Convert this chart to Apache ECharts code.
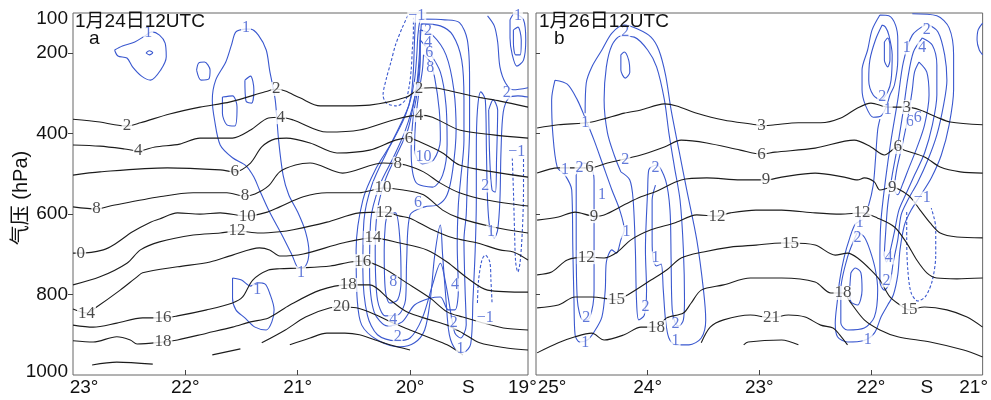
<!DOCTYPE html>
<html>
<head>
<meta charset="utf-8">
<title>剖面图</title>
<script src="https://cdn.jsdelivr.net/npm/echarts@6.0.0/dist/echarts.min.js"></script>
<style>
  html, body { margin: 0; padding: 0; background: #fff; }
  #chart { width: 991px; height: 400px; }
</style>
</head>
<body>
<div id="chart"></div>
<script>
// 刻度
const yLabels = [100, 200, 400, 600, 800, 1000];
const yTicks = [200, 400, 600, 800];
const aLatLabels = [23, 22, 21, 20, 19.48, 19];
const aLatTicks = [22, 21, 20];
const bLatLabels = [25, 24, 23, 22, 21.5, 21];
const bLatTicks = [24, 23, 22];
const aStation = 19.48;
const bStation = 21.5;

// ===== a: 1月24日 温度线 (黑) =====
const aT2 = [[23.00,364],[22.76,371],[22.63,378],[22.52,381],[22.40,373],[22.14,351],[21.87,334],[21.60,321],[21.29,296],[21.19,289],[21.11,294],[20.98,311],[20.80,331],[20.58,331],[20.36,329],[20.03,309],[19.92,289],[19.80,286],[19.64,294],[19.40,309],[19.20,319],[18.95,334]];
const aT4 = [[23.00,428],[22.76,431],[22.54,438],[22.42,443],[22.27,433],[22.05,426],[21.87,411],[21.58,411],[21.42,391],[21.26,361],[21.15,359],[21.04,366],[20.74,396],[20.45,391],[20.15,366],[19.92,354],[19.80,359],[19.56,391],[19.26,403],[18.95,411]];
const aT6 = [[23.00,503],[22.76,495],[22.16,485],[21.69,490],[21.56,495],[21.42,473],[21.32,433],[21.20,413],[21.10,411],[20.89,423],[20.65,448],[20.36,441],[20.13,416],[20.01,411],[19.91,421],[19.71,448],[19.56,478],[19.26,495],[18.95,508]];
const aT8 = [[23.00,582],[22.79,587],[22.67,580],[22.23,557],[21.93,547],[21.63,547],[21.47,555],[21.38,550],[21.26,530],[21.16,495],[21.02,478],[20.89,473],[20.60,498],[20.24,473],[20.11,475],[20.04,478],[19.88,495],[19.73,523],[19.56,547],[19.32,565],[18.95,580]];
const aT10 = [[23.00,697],[22.93,697],[22.73,689],[22.64,677],[22.47,644],[22.31,620],[22.23,612],[22.07,597],[21.87,600],[21.69,597],[21.45,605],[21.27,595],[21.16,582],[20.95,557],[20.74,547],[20.45,547],[20.33,540],[20.24,535],[20.06,540],[19.88,552],[19.71,590],[19.56,610],[19.26,632],[18.95,647]];
const aT12 = [[23.00,776],[22.76,756],[22.52,722],[22.40,689],[22.23,669],[21.93,652],[21.69,647],[21.54,642],[21.34,647],[21.16,644],[21.04,639],[20.74,620],[20.45,597],[20.23,595],[20.09,605],[20.00,610],[19.80,639],[19.62,659],[19.40,672],[19.20,689],[19.08,694],[18.95,714]];
const aT14 = [[23.00,836],[22.88,846],[22.79,831],[22.58,789],[22.43,756],[22.38,746],[22.07,731],[21.78,719],[21.58,702],[21.34,684],[21.25,689],[21.16,704],[20.95,699],[20.60,672],[20.33,659],[20.09,672],[19.85,689],[19.67,719],[19.49,759],[19.31,789],[18.95,794]];
const aT16 = [[23.00,876],[22.82,881],[22.61,871],[22.38,858],[22.20,858],[22.07,853],[21.81,838],[21.58,821],[21.49,806],[21.40,764],[21.26,739],[21.16,736],[20.98,734],[20.71,729],[20.53,719],[20.42,717],[20.24,734],[20.03,771],[19.82,809],[19.67,843],[19.53,856],[19.38,868],[19.17,883],[18.95,888]];
const aT18 = [[23.00,915],[22.82,918],[22.61,905],[22.49,913],[22.43,923],[22.20,918],[22.07,913],[21.81,896],[21.58,881],[21.42,868],[21.26,858],[21.07,826],[20.80,789],[20.55,776],[20.36,776],[20.18,813],[20.03,843],[19.82,863],[19.67,876],[19.53,896],[19.38,920],[19.14,933],[18.95,938]];
const aT20a = [[21.76,950],[21.51,935]];
const aT20b = [[21.32,920],[21.11,888],[20.93,856],[20.71,833],[20.61,831],[20.48,833],[20.30,851],[20.15,871],[20.00,888],[19.82,908],[19.67,925],[19.53,950]];
const aT22 = [[21.07,925],[20.89,908],[20.74,896],[20.58,896],[20.45,900],[20.31,913],[20.18,925],[20.00,938]];
const aT24 = [[22.83,975],[22.61,968],[22.29,973]];
const aTempLines = [aT2, aT4, aT6, aT8, aT10, aT12, aT14, aT16, aT18, aT20a, aT20b, aT22, aT24];
const aTempLabels = [
  [22.52,381,'2'],[21.19,289,'2'],[19.92,289,'2'],
  [22.42,443,'4'],[21.15,359,'4'],[19.92,354,'4'],
  [21.56,495,'6'],[20.01,411,'6'],
  [22.79,587,'8'],[21.47,555,'8'],[20.11,475,'8'],
  [22.93,697,'0'],[21.45,605,'10'],[20.24,535,'10'],
  [21.54,642,'12'],[20.23,595,'12'],
  [22.88,846,'14'],[20.33,659,'14'],
  [22.20,858,'16'],[20.42,717,'16'],
  [22.20,918,'18'],[20.55,776,'18'],
  [20.61,831,'20']
];

// ===== a: 垂直速度 (蓝) =====
const aW1 = [[22.63,192],[22.56,182],[22.45,172],[22.36,157],[22.30,147],[22.23,155],[22.18,175],[22.17,209],[22.22,242],[22.31,267],[22.39,257],[22.47,234],[22.52,212],[22.60,207]];
const aW2 = [[22.35,199],[22.32,194],[22.29,199],[22.32,204]];
const aW3 = [[21.90,242],[21.88,224],[21.83,222],[21.78,242],[21.79,264],[21.86,267]];
const aW4 = [[21.47,140],[21.55,147],[21.59,180],[21.64,222],[21.73,267],[21.76,316],[21.74,366],[21.69,428],[21.58,460],[21.46,480],[21.39,508],[21.34,540],[21.25,595],[21.14,652],[21.05,702],[20.99,734],[20.93,729],[20.90,694],[20.93,644],[21.00,595],[21.08,552],[21.13,503],[21.17,416],[21.20,316],[21.25,242],[21.28,192],[21.35,155],[21.42,140]];
const aW5 = [[21.67,309],[21.58,306],[21.54,334],[21.56,381],[21.63,378],[21.67,349]];
const aW6 = [[21.47,267],[21.42,257],[21.39,291],[21.41,324],[21.46,319]];
const aW7 = [[21.58,759],[21.50,764],[21.42,779],[21.36,771],[21.29,774],[21.25,796],[21.21,838],[21.23,868],[21.28,888],[21.38,881],[21.47,858],[21.55,838],[21.58,809]];
const aW10 = [[19.88,204],[19.82,222],[19.78,262],[19.74,341],[19.73,416],[19.79,465],[19.89,475],[19.96,441],[19.95,366],[19.92,296],[19.89,242]];
const aW8u = [[19.91,167],[19.84,192],[19.73,247],[19.68,329],[19.67,428],[19.71,503],[19.80,533],[19.95,520],[19.99,441],[19.97,354],[19.93,287],[19.91,222]];
const aW8d = [[20.20,597],[20.13,597],[20.09,664],[20.08,764],[20.11,813],[20.18,821],[20.22,789],[20.23,689],[20.22,627]];
const aW6m = [[19.91,142],[19.80,155],[19.68,204],[19.61,291],[19.59,391],[19.62,490],[19.67,552],[19.75,577],[19.87,582],[20.00,602],[20.03,714],[20.04,813],[20.11,851],[20.22,853],[20.29,813],[20.31,689],[20.29,590],[20.22,515],[20.12,453],[20.02,391],[19.97,329],[19.93,267],[19.91,204]];
const aW4m = [[19.90,127],[19.73,132],[19.62,155],[19.54,217],[19.52,316],[19.52,416],[19.55,515],[19.57,577],[19.58,677],[19.57,789],[19.60,838],[19.66,838],[19.73,806],[19.82,809],[19.96,826],[20.07,868],[20.20,878],[20.32,843],[20.36,739],[20.35,615],[20.27,528],[20.15,460],[20.05,398],[19.98,336],[19.94,279],[19.92,217],[19.91,172]];
const aW2m = [[19.89,115],[19.69,117],[19.56,124],[19.49,167],[19.47,267],[19.47,391],[19.49,515],[19.50,602],[19.52,664],[19.51,789],[19.50,876],[19.55,908],[19.60,896],[19.63,858],[19.68,776],[19.73,722],[19.80,776],[19.89,858],[20.00,908],[20.13,915],[20.29,900],[20.38,851],[20.42,739],[20.41,615],[20.34,528],[20.21,448],[20.10,386],[20.01,329],[19.96,267],[19.94,204],[19.93,155],[19.91,117]];
const aW2t = [[19.30,341],[19.29,465],[19.27,540],[19.24,545],[19.23,465],[19.22,341],[19.26,316]];
const aW1tr = [[19.11,117],[19.07,102],[18.99,117],[18.97,167],[18.99,217],[19.05,232],[19.09,204],[19.11,162]];
const aW1tri = [[19.08,142],[19.04,135],[19.01,167],[19.02,204],[19.06,204],[19.08,172]];
const aW1m = [[19.95,102],[19.96,167],[19.97,242],[19.99,304],[20.04,354],[20.16,421],[20.30,485],[20.42,565],[20.48,689],[20.47,813],[20.43,876],[20.29,913],[20.09,930],[19.96,920],[19.87,888],[19.82,813],[19.78,702],[19.73,627],[19.71,702],[19.68,813],[19.65,900],[19.59,938],[19.52,943],[19.46,923],[19.44,813],[19.42,689],[19.41,565],[19.41,441],[19.40,341],[19.37,296],[19.33,316],[19.32,441],[19.31,565],[19.29,634],[19.25,659],[19.22,639],[19.20,565],[19.19,441],[19.17,346],[19.12,311],[19.04,306],[18.95,309]];
const aW2r = [[18.95,286],[19.08,291],[19.15,274],[19.20,234],[19.22,172],[19.25,132],[19.31,107]];
const aWn1 = [[20.02,107],[20.07,137],[20.13,180],[20.17,222],[20.21,262],[20.24,304],[20.21,324],[20.12,331],[20.04,316],[20.01,286],[19.99,242],[19.98,192],[19.97,147],[19.97,112]];
const aWn2 = [[19.09,460],[19.08,540],[19.07,639],[19.06,719],[19.04,744],[19.02,719],[19.00,639],[18.99,540],[18.99,460]];
const aWn3 = [[19.40,821],[19.39,764],[19.36,714],[19.33,702],[19.29,719],[19.28,764],[19.27,821]];
const aWLoops = [aW1, aW2, aW3, aW4, aW5, aW6, aW7, aW10, aW8u, aW8d, aW6m, aW4m, aW2m, aW2t, aW1tr, aW1tri];
const aWLines = [aW1m, aW2r];
const aWDash = [aWn1, aWn2, aWn3];
const aWLabels = [
  [22.33,150,'1'],[21.46,137,'1'],[20.97,746,'1'],[21.36,789,'1'],
  [19.94,108,'−1'],[19.84,145,'2'],[19.84,175,'4'],[19.83,199,'6'],[19.82,237,'8'],
  [19.88,458,'10'],[19.93,572,'6'],[20.15,769,'8'],[20.15,863,'4'],[20.11,905,'2'],
  [19.60,776,'4'],[19.61,871,'2'],[19.55,935,'1'],[19.33,530,'2'],[19.28,644,'1'],
  [19.14,299,'2'],[19.04,108,'1'],[19.05,446,'−1'],[19.33,858,'−1']
];

// ===== b: 1月26日 温度线 (黑) =====
const bT3 = [[24.99,386],[24.80,378],[24.50,371],[24.21,349],[24.06,341],[23.85,326],[23.74,331],[23.56,349],[23.32,366],[23.03,378],[22.98,381],[22.86,378],[22.65,373],[22.45,373],[22.27,361],[22.12,336],[22.00,324],[21.85,334],[21.68,334],[21.56,341],[21.41,359],[21.29,371],[21.00,378]];
const bT6 = [[24.99,498],[24.80,485],[24.52,485],[24.36,473],[24.06,453],[23.85,433],[23.70,416],[23.47,423],[23.17,441],[22.98,451],[22.86,446],[22.50,436],[22.15,416],[22.00,433],[21.88,453],[21.76,433],[21.70,441],[21.52,458],[21.38,483],[21.20,495],[21.00,498]];
const bT9 = [[24.99,615],[24.80,607],[24.65,595],[24.48,605],[24.39,602],[24.21,577],[24.06,557],[23.92,543],[23.70,515],[23.47,510],[23.17,515],[22.94,515],[22.80,508],[22.50,498],[22.24,508],[22.12,515],[22.06,510],[21.97,520],[21.92,540],[21.81,533],[21.74,540],[21.65,557],[21.56,590],[21.47,622],[21.38,647],[21.23,657],[21.00,659]];
const bT12 = [[24.99,751],[24.86,744],[24.72,714],[24.55,707],[24.39,709],[24.27,694],[24.15,664],[23.97,639],[23.76,622],[23.56,602],[23.38,605],[23.26,597],[23.03,590],[22.80,590],[22.50,597],[22.27,600],[22.08,597],[21.94,610],[21.79,632],[21.68,672],[21.59,714],[21.50,746],[21.41,759],[21.23,761],[21.00,759]];
const bT15 = [[24.99,833],[24.80,826],[24.65,806],[24.50,806],[24.28,813],[24.18,801],[23.97,764],[23.83,739],[23.70,709],[23.50,694],[23.26,682],[23.03,677],[22.80,672],[22.72,672],[22.50,677],[22.32,702],[22.21,697],[22.12,709],[22.00,739],[21.92,764],[21.83,806],[21.74,826],[21.66,838],[21.52,831],[21.32,838],[21.14,856],[21.00,881]];
const bT18 = [[24.99,945],[24.80,920],[24.65,905],[24.50,896],[24.39,913],[24.21,900],[24.06,881],[23.92,881],[23.83,858],[23.68,846],[23.61,821],[23.52,789],[23.32,776],[23.08,759],[22.80,759],[22.50,769],[22.36,796],[22.25,796],[22.18,821],[22.06,863],[21.92,888],[21.76,905],[21.47,918],[21.17,938],[21.00,955]];
const bT21 = [[23.52,920],[23.44,881],[23.32,863],[23.08,851],[22.89,858],[22.74,851],[22.59,856],[22.45,876],[22.34,883],[22.28,900],[22.21,925]];
const bT24 = [[23.14,925],[23.10,918],[22.80,913],[22.65,925]];
const bTempLines = [bT3, bT6, bT9, bT12, bT15, bT18, bT21, bT24];
const bTempLabels = [
  [22.98,381,'3'],[21.68,334,'3'],
  [24.52,485,'6'],[22.98,451,'6'],[21.76,433,'6'],
  [24.48,605,'9'],[22.94,515,'9'],[21.81,533,'9'],
  [24.55,707,'12'],[23.38,605,'12'],[22.08,597,'12'],
  [24.28,813,'15'],[22.72,672,'15'],[21.66,838,'15'],
  [23.92,881,'18'],[22.25,796,'18'],
  [22.89,858,'21']
];

// ===== b: 垂直速度 (蓝) =====
const bWk1 = [[24.83,267],[24.86,316],[24.85,398],[24.81,483],[24.74,503],[24.68,540],[24.67,689],[24.66,813],[24.65,900],[24.61,918],[24.54,913],[24.48,893],[24.41,856],[24.38,789],[24.37,719],[24.32,689],[24.28,697],[24.24,664],[24.21,639],[24.25,590],[24.32,540],[24.40,478],[24.48,416],[24.56,361],[24.63,316],[24.72,277]];
const bWk2 = [[24.64,503],[24.64,664],[24.63,813],[24.58,863],[24.52,858],[24.48,789],[24.48,639],[24.48,515],[24.52,478],[24.58,473]];
const bWm2 = [[24.24,495],[24.30,453],[24.36,398],[24.39,316],[24.37,234],[24.32,180],[24.24,157],[24.12,160],[24.00,192],[23.92,234],[23.85,316],[23.81,398],[23.76,483],[23.71,565],[23.68,689],[23.67,813],[23.68,863],[23.72,878],[23.75,873],[23.78,838],[23.79,714],[23.80,590],[23.84,515],[23.92,478],[23.99,490],[24.00,540],[24.02,689],[24.01,789],[24.03,851],[24.08,863],[24.10,813],[24.11,689],[24.13,565],[24.16,515]];
const bWov = [[24.24,204],[24.21,197],[24.17,217],[24.16,247],[24.20,262],[24.24,242]];
const bWcl1 = [[21.92,105],[21.99,142],[22.03,192],[22.08,242],[22.08,291],[22.05,329],[21.98,359],[21.91,356],[21.86,331],[21.83,304],[21.79,279],[21.76,217],[21.76,167],[21.78,130],[21.84,107]];
const bWcl2 = [[21.90,130],[21.96,167],[22.01,217],[22.02,267],[21.98,304],[21.91,316],[21.85,296],[21.82,267],[21.81,204],[21.84,155],[21.87,135]];
const bWcl3 = [[21.88,172],[21.85,162],[21.83,180],[21.83,217],[21.85,234],[21.88,217]];
const bWrc6 = [[21.57,222],[21.50,247],[21.48,304],[21.52,378],[21.59,436],[21.66,485],[21.72,528],[21.76,552],[21.79,540],[21.77,490],[21.72,428],[21.67,361],[21.63,291],[21.61,247]];
const bWrc4 = [[21.54,162],[21.45,180],[21.41,229],[21.41,304],[21.45,378],[21.52,448],[21.61,503],[21.69,552],[21.75,590],[21.79,644],[21.83,694],[21.86,719],[21.88,702],[21.87,652],[21.85,577],[21.81,503],[21.76,428],[21.71,341],[21.67,262],[21.62,197]];
const bWrc2 = [[21.50,127],[21.40,147],[21.34,204],[21.32,267],[21.35,329],[21.41,403],[21.49,465],[21.58,520],[21.67,565],[21.73,602],[21.76,664],[21.80,719],[21.83,769],[21.88,789],[21.92,769],[21.92,702],[21.91,615],[21.87,515],[21.82,416],[21.76,316],[21.71,222],[21.63,155]];
const bWll2 = [[22.12,644],[22.21,707],[22.27,789],[22.27,871],[22.21,888],[22.06,883],[21.97,856],[21.94,789],[21.96,739],[22.01,689],[22.06,657]];
const bWll3 = [[22.18,746],[22.14,734],[22.09,746],[22.08,789],[22.12,826],[22.18,818],[22.19,789]];
const bWm1 = [[24.56,349],[24.55,274],[24.50,234],[24.41,192],[24.32,150],[24.21,130],[24.09,140],[23.97,160],[23.90,192],[23.84,254],[23.79,341],[23.72,441],[23.65,540],[23.56,664],[23.50,789],[23.48,863],[23.52,908],[23.63,925],[23.75,925],[23.81,908],[23.84,863],[23.86,789],[23.88,724],[23.92,729],[23.95,714],[23.96,664],[23.96,565],[23.93,528]];
const bWrc1 = [[21.63,102],[21.41,107],[21.30,137],[21.26,204],[21.26,291],[21.30,378],[21.37,453],[21.46,510],[21.56,555],[21.64,590],[21.70,627],[21.74,689],[21.76,751],[21.80,801],[21.85,826],[21.91,856],[21.97,896],[22.07,915],[22.21,918],[22.30,905],[22.32,871],[22.30,813],[22.28,764],[22.24,707],[22.19,659],[22.14,625],[22.07,612],[22.02,577],[21.98,528],[21.96,465],[21.94,391],[21.92,364]];
const bWedge = [[21.00,125],[21.04,142],[21.05,167],[21.03,192],[21.00,204]];
const bWn1 = [[21.68,595],[21.68,664],[21.67,739],[21.64,796],[21.58,816],[21.51,804],[21.45,764],[21.42,702],[21.42,634],[21.46,585]];
const bWLoops = [bWk1, bWk2, bWm2, bWov, bWcl1, bWcl2, bWcl3, bWrc6, bWrc4, bWrc2, bWll2, bWll3];
const bWLines = [bWm1, bWrc1, bWedge];
const bWDash = [bWn1];
const bWLabels = [
  [24.74,490,'1'],[24.56,373,'1'],[24.56,920,'1'],[24.19,644,'1'],[24.41,552,'1'],
  [24.61,485,'2'],[24.55,858,'2'],[24.20,147,'2'],[24.20,465,'2'],[23.93,485,'2'],
  [24.02,831,'2'],[23.75,873,'2'],[23.93,709,'1'],[23.75,915,'1'],
  [21.90,309,'2'],[21.85,341,'1'],[21.68,187,'1'],[21.54,187,'4'],[21.50,142,'2'],
  [21.65,371,'6'],[21.58,361,'6'],[21.84,709,'4'],[21.86,766,'2'],
  [22.10,622,'1'],[22.12,659,'2'],[22.03,913,'1'],[21.54,560,'−1']
];

// ===== 绘图 =====
const BLUE = '#3a58cf';
const BLACK = '#1c1c1c';
const SANS = '"Liberation Sans", Arial, "Noto Sans CJK SC", sans-serif';
const SERIF = '"Liberation Serif", "Times New Roman", serif';

function lineSeries(pts, idx, color, closed, dash) {
  return {
    type: 'line', xAxisIndex: idx, yAxisIndex: idx,
    data: closed ? pts.concat([pts[0]]) : pts,
    symbol: 'none', smooth: 0.3, silent: true, animation: false,
    lineStyle: { color: color, width: 1.1, type: dash ? [3, 2] : 'solid' },
    z: color === BLACK ? 3 : 2
  };
}

function labelSeries(list, idx, color, size, z) {
  return {
    type: 'scatter', xAxisIndex: idx, yAxisIndex: idx, symbolSize: 0,
    silent: true, animation: false, z: z,
    data: list.map(d => ({ value: [d[0], d[1]], name: d[2] })),
    label: {
      show: true, position: 'inside', formatter: p => p.name,
      color: color, fontSize: size, fontFamily: SERIF,
      backgroundColor: '#fff', padding: [0, 1], lineHeight: size - 3
    }
  };
}

const series = [];
aTempLines.forEach(l => series.push(lineSeries(l, 0, BLACK, false)));
aWLoops.forEach(l => series.push(lineSeries(l, 0, BLUE, true)));
aWLines.forEach(l => series.push(lineSeries(l, 0, BLUE, false)));
aWDash.forEach(l => series.push(lineSeries(l, 0, BLUE, false, true)));
bTempLines.forEach(l => series.push(lineSeries(l, 1, BLACK, false)));
bWLoops.forEach(l => series.push(lineSeries(l, 1, BLUE, true)));
bWLines.forEach(l => series.push(lineSeries(l, 1, BLUE, false)));
bWDash.forEach(l => series.push(lineSeries(l, 1, BLUE, false, true)));
series.push(labelSeries(aWLabels, 0, BLUE, 16, 5));
series.push(labelSeries(bWLabels, 1, BLUE, 16, 5));
series.push(labelSeries(aTempLabels, 0, BLACK, 17, 6));
series.push(labelSeries(bTempLabels, 1, BLACK, 17, 6));

const axisFont = { fontSize: 19, fontFamily: SANS, color: '#111' };

function xAxis(idx, min, max, labels, ticks, station, first, last) {
  return {
    gridIndex: idx, type: 'value', min: min, max: max, inverse: true,
    axisLine: { show: false }, splitLine: { show: false },
    axisTick: { show: true, inside: true, length: 5, customValues: ticks, lineStyle: { color: '#444' } },
    axisLabel: Object.assign({
      customValues: labels, margin: 3,
      formatter: v => {
        if (Math.abs(v - station) < 1e-6) return 'S';
        if (v === first[0]) return '{f|' + v + '°}';
        if (v === last[0]) return '{l|' + v + '°}';
        return v + '°';
      },
      rich: {
        f: Object.assign({ padding: [0, 0, 0, first[1]] }, axisFont),
        l: Object.assign({ padding: [0, last[1], 0, 0] }, axisFont)
      }
    }, axisFont)
  };
}

function yAxis(idx, showLabel) {
  return {
    gridIndex: idx, type: 'value', min: 100, max: 1000, inverse: true,
    axisLine: { show: false }, splitLine: { show: false },
    axisTick: { show: true, inside: !showLabel, length: showLabel ? 5 : 4, customValues: yTicks, lineStyle: { color: '#444' } },
    axisLabel: Object.assign({
      show: showLabel, customValues: yLabels, margin: 5,
      formatter: v => v === 100 ? '{t|100}' : v === 1000 ? '{b|1000}' : String(v),
      rich: {
        t: Object.assign({ padding: [12, 0, 0, 0] }, axisFont),
        b: Object.assign({ padding: [0, 0, 6, 0] }, axisFont)
      }
    }, axisFont)
  };
}

const titleStyle = { fontSize: 19, fontWeight: 'normal', fontFamily: SANS, color: '#111' };

const option = {
  backgroundColor: '#fff',
  animation: false,
  title: [
    { text: '1月24日12UTC', left: 75, top: 12, padding: 0, textStyle: titleStyle },
    { text: 'a', left: 89, top: 29, padding: 0, textStyle: titleStyle },
    { text: '1月26日12UTC', left: 539, top: 12, padding: 0, textStyle: titleStyle },
    { text: 'b', left: 554, top: 29, padding: 0, textStyle: titleStyle }
  ],
  grid: [
    { left: 73, top: 13, width: 455, height: 362, show: true, borderColor: '#666', borderWidth: 1, backgroundColor: 'transparent' },
    { left: 536, top: 13, width: 450, height: 362, show: true, borderColor: '#666', borderWidth: 1, backgroundColor: 'transparent' }
  ],
  xAxis: [
    xAxis(0, 18.95, 23, aLatLabels, aLatTicks, aStation, [23, 22], [19, 0]),
    xAxis(1, 21, 25, bLatLabels, bLatTicks, bStation, [25, 32], [21, 18])
  ],
  yAxis: [yAxis(0, true), yAxis(1, false)],
  graphic: [{
    type: 'text', x: 21, y: 198, rotation: Math.PI / 2,
    style: { text: '气压 (hPa)', fontSize: 20, fontFamily: SANS, fill: '#111', align: 'center', verticalAlign: 'middle' }
  }],
  series: series
};

const chart = echarts.init(document.getElementById('chart'));
chart.setOption(option);
</script>
</body>
</html>
